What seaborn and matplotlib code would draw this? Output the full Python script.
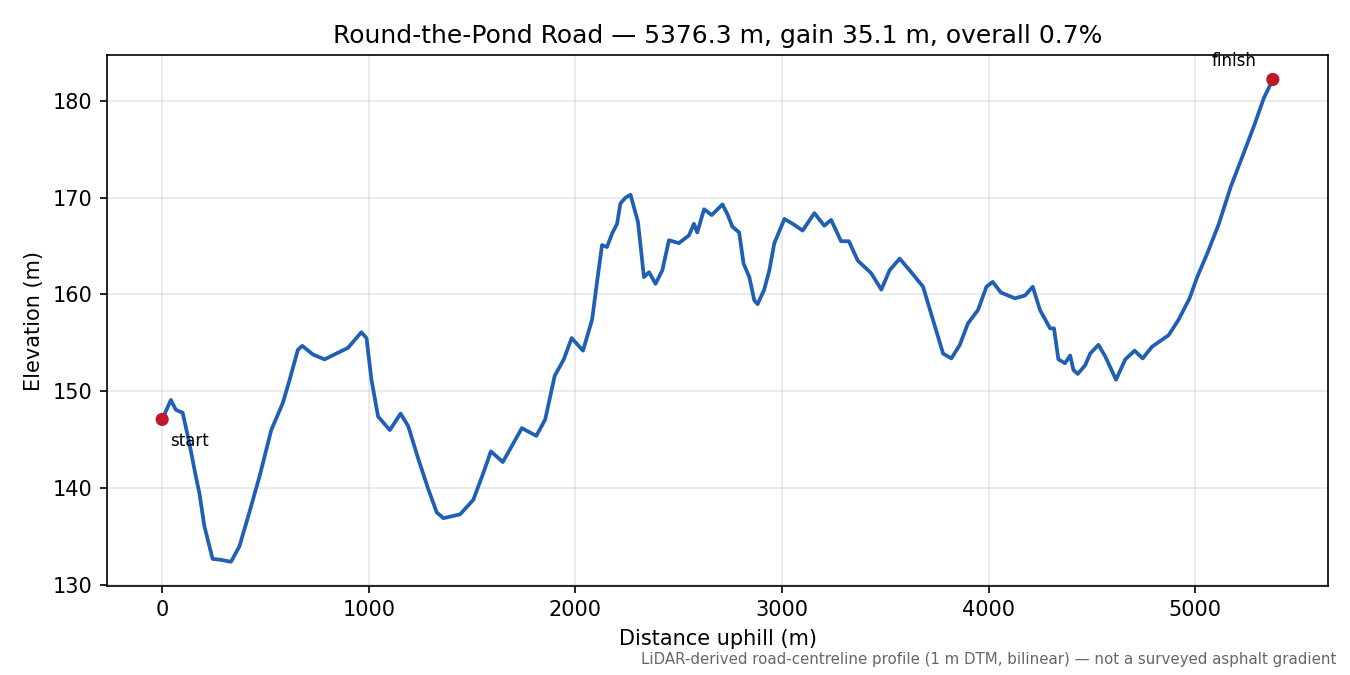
import numpy as np
import pandas as pd
import matplotlib
matplotlib.use("Agg")
import matplotlib.pyplot as plt
import seaborn as sns

# profile (distance uphill in m, elevation in m)
distance = [0, 42, 66, 86, 99, 131, 163, 180, 204, 244, 285, 333, 374, 422, 471,
            528, 584, 617, 657, 678, 730, 786, 843, 900, 964, 989, 1013, 1045,
            1102, 1154, 1191, 1240, 1288, 1329, 1361, 1442, 1506, 1555, 1591,
            1649, 1741, 1811, 1854, 1900, 1944, 1982, 2037, 2081, 2105, 2129,
            2153, 2178, 2202, 2218, 2243, 2267, 2303, 2332, 2357, 2388, 2421,
            2453, 2501, 2550, 2574, 2590, 2623, 2660, 2712, 2736, 2760, 2793,
            2814, 2842, 2866, 2882, 2914, 2939, 2963, 3012, 3052, 3100, 3157,
            3205, 3238, 3286, 3324, 3367, 3432, 3481, 3521, 3570, 3618, 3683,
            3731, 3780, 3820, 3861, 3900, 3949, 3990, 4020, 4060, 4128, 4177,
            4214, 4249, 4298, 4317, 4338, 4370, 4395, 4411, 4432, 4468, 4492,
            4532, 4565, 4617, 4662, 4707, 4746, 4791, 4872, 4920, 4973, 5010,
            5058, 5115, 5172, 5228, 5285, 5333, 5376.3]
elevation = [147.1, 149.1, 148.1, 147.9, 147.8, 144.7, 141.2, 139.5, 136.1, 132.7,
             132.6, 132.4, 134.0, 137.5, 141.2, 146.0, 148.8, 151.2, 154.3, 154.7,
             153.8, 153.3, 153.9, 154.5, 156.1, 155.5, 151.2, 147.4, 146.0, 147.7,
             146.4, 143.0, 139.9, 137.5, 136.9, 137.3, 138.8, 141.6, 143.8, 142.7,
             146.2, 145.4, 147.1, 151.6, 153.3, 155.5, 154.2, 157.4, 161.3, 165.1,
             164.9, 166.3, 167.3, 169.4, 170.0, 170.3, 167.5, 161.8, 162.3, 161.1,
             162.5, 165.6, 165.3, 166.1, 167.3, 166.4, 168.8, 168.2, 169.3, 168.3,
             167.0, 166.4, 163.2, 161.8, 159.4, 159.0, 160.5, 162.5, 165.3, 167.8,
             167.3, 166.6, 168.4, 167.1, 167.7, 165.5, 165.5, 163.5, 162.2, 160.5,
             162.5, 163.7, 162.5, 160.8, 157.4, 153.9, 153.4, 154.8, 157.0, 158.4,
             160.8, 161.3, 160.2, 159.6, 159.9, 160.8, 158.4, 156.5, 156.5, 153.3,
             152.9, 153.7, 152.2, 151.8, 152.7, 153.9, 154.8, 153.6, 151.2, 153.3,
             154.2, 153.4, 154.6, 155.8, 157.4, 159.6, 161.8, 164.2, 167.3, 171.1,
             174.2, 177.4, 180.3, 182.2]

total_len = 5376.3
gain = 35.1
overall = 0.7

df = pd.DataFrame({'dist': distance, 'elev': elevation})

# plain matplotlib look (black text, boxed axes)
plt.rcParams['font.family'] = ['DejaVu Sans']

fig, ax = plt.subplots(figsize=(9, 4.5), dpi=150)
fig.subplots_adjust(left=0.079, right=0.984, top=0.918, bottom=0.132)

sns.lineplot(data=df, x='dist', y='elev', ax=ax, color='#1f5fb4',
             linewidth=1.8, estimator=None, sort=False)

# start / finish markers
ends = df.iloc[[0, -1]]
sns.scatterplot(data=ends, x='dist', y='elev', ax=ax, color='#c0182a',
                s=40, edgecolor='none', zorder=5)
ax.annotate('start', (df['dist'].iloc[0], df['elev'].iloc[0]),
            xytext=(4, -6), textcoords='offset points', ha='left', va='top',
            fontsize=8)
ax.annotate('finish', (df['dist'].iloc[-1], df['elev'].iloc[-1]),
            xytext=(-8, 4.5), textcoords='offset points', ha='right', va='bottom',
            fontsize=8)

ax.grid(True, alpha=0.3)
ax.set_xlabel('Distance uphill (m)')
ax.set_ylabel('Elevation (m)')
ax.set_title(f'Round-the-Pond Road \u2014 {total_len} m, gain {gain} m, overall {overall}%',
             fontsize=12)

fig.text(0.99, 0.012, 'LiDAR-derived road-centreline profile (1 m DTM, bilinear) \u2014 '
         'not a surveyed asphalt gradient', ha='right', va='bottom',
         fontsize=7.2, color='#666666')

fig.savefig('out.png', dpi=150)
